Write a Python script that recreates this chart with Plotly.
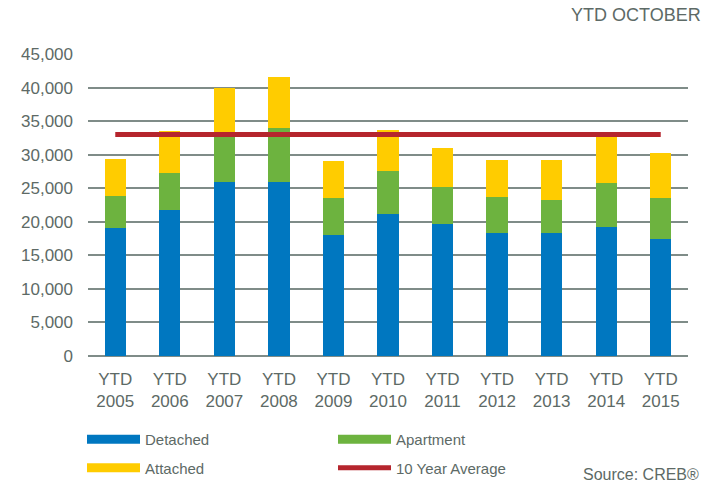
import plotly.graph_objects as go

categories = ["YTD<br>2005", "YTD<br>2006", "YTD<br>2007", "YTD<br>2008", "YTD<br>2009", "YTD<br>2010",
              "YTD<br>2011", "YTD<br>2012", "YTD<br>2013", "YTD<br>2014", "YTD<br>2015"]
detached = [19000, 21800, 25900, 25900, 18000, 21100, 19700, 18400, 18300, 19200, 17400]
apartment = [4900, 5500, 7100, 8000, 5600, 6400, 5500, 5300, 5000, 6600, 6100]
attached = [5500, 6200, 7000, 7600, 5500, 6200, 5800, 5500, 5950, 7200, 6700]
ten_year_avg = [33000] * len(categories)

BLUE = "#0077C0"
GREEN = "#6DB33F"
YELLOW = "#FFCC00"
RED = "#B5252D"
TEXT = "#5d6a66"
GRID = "#7f8c88"
FONT = "Liberation Sans, Arial, sans-serif"

fig = go.Figure()
for name, vals, col in [("Detached", detached, BLUE), ("Apartment", apartment, GREEN), ("Attached", attached, YELLOW)]:
    fig.add_trace(go.Bar(x=categories, y=vals, name=name, marker=dict(color=col, line=dict(width=0)),
                         showlegend=False))

fig.add_trace(go.Scatter(x=categories, y=ten_year_avg, mode="lines", name="10 Year Average",
                         line=dict(color=RED, width=5), showlegend=False))

# legend entries: one legend per entry, laid out in two rows and two columns
legend_entries = [("Detached", BLUE, 9, "legend"), ("Apartment", GREEN, 9, "legend2"),
                  ("Attached", YELLOW, 9, "legend3"), ("10 Year Average", RED, 5, "legend4")]
for name, col, w, lg in legend_entries:
    fig.add_trace(go.Scatter(x=[None], y=[None], mode="lines", name=name, legend=lg,
                             line=dict(color=col, width=w)))

legend_common = dict(orientation="h", xref="container", xanchor="left", yref="container",
                     yanchor="middle", itemwidth=53, font=dict(size=15, color=TEXT, family=FONT),
                     bgcolor="rgba(0,0,0,0)")
row1, row2 = 1 - 439.5 / 485, 1 - 468 / 485
col1, col2 = 82 / 719, 333 / 719

fig.update_layout(
    width=719, height=485,
    margin=dict(l=88, r=31, t=54, b=129, autoexpand=False),
    barmode="stack", bargap=0.61,
    plot_bgcolor="white", paper_bgcolor="white",
    font=dict(family=FONT, color=TEXT, size=17),
    xaxis=dict(showgrid=False, showline=False, ticks="", tickfont=dict(size=17, color=TEXT),
               ticklabelstandoff=11, automargin=False),
    yaxis=dict(range=[0, 45000], dtick=5000, tickformat=",", showgrid=True, gridcolor=GRID,
               gridwidth=1.5, zeroline=True, zerolinecolor=GRID, zerolinewidth=1.5,
               showline=False, ticks="", tickfont=dict(size=17, color=TEXT), ticklabelstandoff=14,
               automargin=False),
    legend=dict(x=col1, y=row1, **legend_common),
    legend2=dict(x=col2, y=row1, **legend_common),
    legend3=dict(x=col1, y=row2, **legend_common),
    legend4=dict(x=col2, y=row2, **legend_common),
    annotations=[
        dict(text="YTD OCTOBER", xref="paper", yref="paper", x=1.025, y=1.13, xanchor="right",
             yanchor="middle", showarrow=False, font=dict(size=18, color=TEXT)),
        dict(text="Source: CREB®", xref="paper", yref="paper", x=1.0217, y=-0.394, xanchor="right",
             yanchor="middle", showarrow=False, font=dict(size=16, color=TEXT)),
    ],
)

fig.write_html("out.html", config={"displayModeBar": False},
               post_script="document.body.style.margin='0';")
